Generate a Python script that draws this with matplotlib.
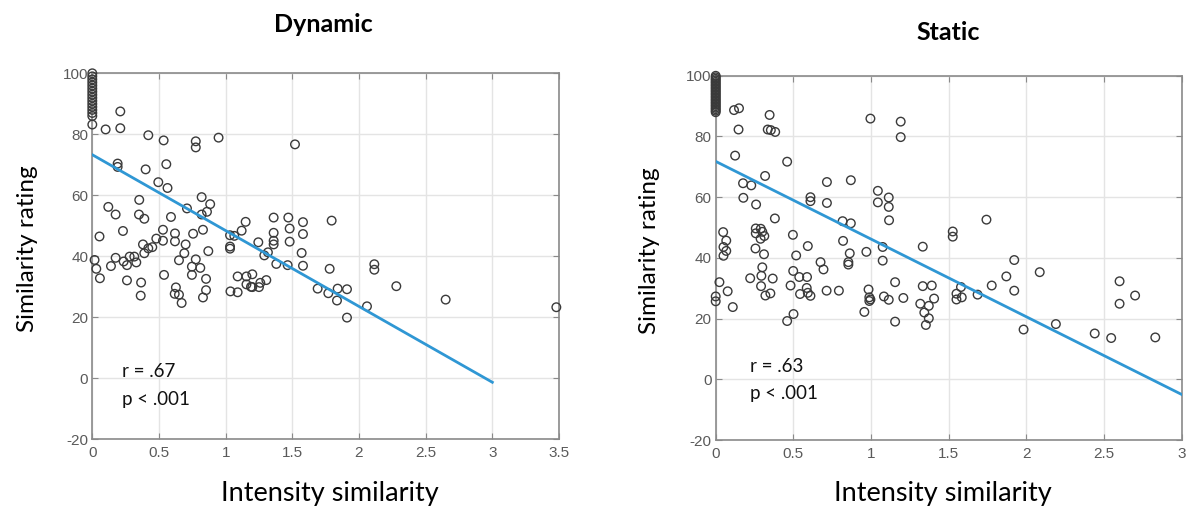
import matplotlib
matplotlib.use("Agg")
import matplotlib.pyplot as plt

# ---------------- data ----------------
# Dynamic panel
dyn_x = [0]*16 + [
    0.21, 0.10, 0.21, 0.42, 0.535, 0.776, 0.776, 0.947, 1.52,
    0.19, 0.19, 0.40, 0.555, 0.495, 0.564,
    0.12, 0.175, 0.352, 0.35, 0.39, 0.59, 0.71, 0.82, 0.884, 0.86, 0.82,
    0.23, 0.054, 0.53, 0.62, 0.756, 0.83, 0.48, 0.53, 0.62, 0.70, 0.38, 0.45, 0.42, 0.39, 0.87, 0.69,
    0.017, 0.175, 0.28, 0.315, 0.235, 0.33, 0.26, 0.14, 0.03, 0.057, 0.26, 0.366, 0.363,
    0.65, 0.776, 0.747, 0.81, 0.538, 0.747, 0.853, 0.853, 0.83, 0.627, 0.618, 0.65, 0.67,
    1.033, 1.033, 1.033, 1.065, 1.12, 1.15, 1.245, 1.29, 1.317,
    1.09, 1.09, 1.036, 1.156, 1.2, 1.156, 1.19, 1.2, 1.26, 1.305, 1.25,
    1.36, 1.36, 1.36, 1.36, 1.38, 1.47, 1.48, 1.48, 1.465,
    1.58, 1.58, 1.57, 1.58, 1.795, 1.78, 1.69, 1.77, 1.84, 1.835, 1.91, 1.91,
    2.06, 2.115, 2.115, 2.28, 2.65, 3.48]
dyn_y = [100, 99, 98, 97, 96, 95, 94, 93, 92, 91, 90, 89, 88, 87, 86, 83.2] + [
    87.5, 81.6, 82.0, 79.7, 78.0, 77.7, 75.7, 78.9, 76.7,
    70.4, 69.3, 68.5, 70.2, 64.3, 62.4,
    56.2, 53.7, 58.5, 53.7, 52.3, 52.9, 55.7, 59.4, 57.1, 54.6, 53.7,
    48.3, 46.5, 48.7, 47.5, 47.4, 48.7, 45.8, 45.1, 44.9, 43.9, 43.9, 43.0, 42.6, 41.0, 41.7, 41.0,
    38.8, 39.5, 39.9, 39.9, 38.3, 38.0, 37.1, 36.8, 35.9, 32.8, 32.1, 31.4, 27.1,
    38.7, 39.0, 36.6, 36.2, 33.9, 33.9, 32.6, 28.9, 26.5, 29.8, 27.7, 27.4, 24.7,
    43.2, 42.5, 46.9, 46.7, 48.4, 51.3, 44.6, 40.3, 41.3,
    33.4, 28.2, 28.5, 33.4, 34.1, 30.8, 30.0, 29.9, 31.3, 32.2, 29.9,
    52.7, 47.7, 45.1, 43.9, 37.5, 52.7, 49.1, 44.8, 37.1,
    51.2, 47.3, 41.1, 36.9, 51.7, 35.9, 29.4, 27.9, 29.4, 25.5, 29.2, 19.9,
    23.6, 37.4, 35.6, 30.2, 25.8, 23.3]
dyn_fit_x = [0, 3]
dyn_fit_y = [73.3, -1.3]

# Static panel
sta_x = [0]*25 + [
    0, 0, 0.024, 0.077, 0.11, 0.048, 0.068, 0.05, 0.068, 0.05,
    0.118, 0.15, 0.147, 0.125, 0.347, 0.335, 0.355, 0.383, 0.46, 0.318,
    0.176, 0.229, 0.178, 0.26, 0.381,
    0.258, 0.29, 0.30, 0.258, 0.313, 0.289, 0.256, 0.311, 0.30, 0.294, 0.222, 0.367, 0.292, 0.32, 0.352,
    0.497, 0.518, 0.499, 0.538, 0.588, 0.593, 0.61, 0.61, 0.482, 0.543, 0.586, 0.593, 0.61, 0.501, 0.46,
    0.675, 0.694, 0.716, 0.716, 0.714, 0.793, 0.817, 0.87, 0.87, 0.82, 0.863, 0.854, 0.854,
    0.957, 0.97, 0.984, 0.989, 0.989, 0.996, 0.996,
    1.044, 1.044, 1.114, 1.114, 1.116, 1.075, 1.075, 1.083, 1.114, 1.155, 1.155, 1.208, 1.191, 1.191,
    1.317, 1.333, 1.333, 1.343, 1.353, 1.372, 1.372, 1.391, 1.406,
    1.526, 1.526, 1.55, 1.55, 1.579, 1.584, 1.686, 1.743, 1.777,
    1.871, 1.922, 1.922, 1.982, 2.086, 2.19, 2.44, 2.546, 2.6, 2.6, 2.70, 2.83]
sta_y = [100, 99.5, 99, 98.5, 98, 97.5, 97, 96.5, 96, 95.5, 95, 94.5, 94, 93.5, 93,
         92.5, 92, 91.5, 91, 90.5, 90, 89.5, 89, 88.5, 88] + [
    27.3, 25.7, 32.0, 29.0, 23.8, 48.5, 45.7, 43.6, 42.3, 40.7,
    88.7, 89.3, 82.3, 73.7, 87.1, 82.3, 82.1, 81.5, 71.7, 67.0,
    64.6, 63.9, 59.8, 57.6, 53.0,
    49.7, 49.6, 48.6, 48.1, 47.2, 46.3, 43.1, 41.2, 36.9, 34.1, 33.3, 33.2, 30.7, 27.6, 28.3,
    47.6, 40.8, 35.7, 33.7, 33.7, 43.9, 60.0, 58.7, 30.9, 28.1, 30.1, 28.5, 27.5, 21.5, 19.2,
    38.6, 36.2, 65.0, 58.1, 29.2, 29.2, 52.1, 51.4, 65.6, 45.6, 41.5, 38.6, 37.8,
    22.2, 42.0, 29.6, 27.0, 25.8, 26.3, 85.9,
    62.1, 58.3, 59.9, 56.8, 52.4, 43.6, 39.1, 27.3, 26.2, 32.0, 19.0, 26.8, 84.9, 79.8,
    24.9, 30.7, 43.7, 22.0, 17.9, 20.1, 24.2, 30.9, 26.6,
    48.7, 47.0, 26.3, 28.2, 30.4, 27.0, 27.9, 52.6, 30.9,
    33.9, 39.3, 29.2, 16.4, 35.3, 18.2, 15.1, 13.6, 32.3, 24.9, 27.6, 13.8]
sta_fit_x = [0, 3]
sta_fit_y = [71.8, -5.0]

titles = ["Dynamic", "Static"]
stats = [["r = .67", "p < .001"], ["r = .63", "p < .001"]]
xlabel = "Intensity similarity"
ylabel = "Similarity rating"
y_ticks = [-20, 0, 20, 40, 60, 80, 100]
dyn_xticks = [0, 0.5, 1, 1.5, 2, 2.5, 3, 3.5]
sta_xticks = [0, 0.5, 1, 1.5, 2, 2.5, 3]

# ---------------- style ----------------
W, H = 1189, 518
fig = plt.figure(figsize=(W / 100, H / 100), dpi=100)
fig.patch.set_facecolor("white")

label_font = ["Lato", "DejaVu Sans"]
tick_font = ["Liberation Sans", "DejaVu Sans"]
line_color = "#2F97D4"
marker_edge = "#3a3a3a"
frame_color = "#8a8a8a"
tick_color = "#5a5a5a"


def px_axes(x0, y0, x1, y1):
    return fig.add_axes([x0 / W, 1 - y1 / H, (x1 - x0) / W, (y1 - y0) / H])


def style_axes(ax, xlim, xticks):
    ax.set_xlim(*xlim)
    ax.set_ylim(-20, 100)
    ax.set_xticks(xticks)
    ax.set_xticklabels([f"{t:g}" for t in xticks], fontfamily=tick_font,
                       fontsize=11, color=tick_color)
    ax.set_yticks(y_ticks)
    ax.set_yticklabels([f"{t:g}" for t in y_ticks], fontfamily=tick_font,
                       fontsize=11, color=tick_color)
    ax.grid(True, color="#e4e4e4", linewidth=1.0)
    ax.set_axisbelow(True)
    for s in ax.spines.values():
        s.set_color(frame_color)
        s.set_linewidth(1.2)
    ax.tick_params(direction="in", length=4, width=0.8, color=frame_color,
                   top=True, right=True, pad=5)
    ax.tick_params(axis="y", pad=3)


panels = [
    dict(box=(92.3, 73.3, 559.0, 439.3), xlim=(0, 3.5), xticks=dyn_xticks,
         x=dyn_x, y=dyn_y, fx=dyn_fit_x, fy=dyn_fit_y, title=titles[0], stats=stats[0],
         stat_y=(2.2, -7.0), title_pos=(323.5, 24), ylab_pos=(28, 249), xlab_pos=(329.5, 493)),
    dict(box=(715.7, 75.8, 1181.7, 440.0), xlim=(0, 3), xticks=sta_xticks,
         x=sta_x, y=sta_y, fx=sta_fit_x, fy=sta_fit_y, title=titles[1], stats=stats[1],
         stat_y=(4.3, -4.8), title_pos=(948, 33), ylab_pos=(649, 251), xlab_pos=(943, 494)),
]

for p in panels:
    ax = px_axes(*p["box"])
    style_axes(ax, p["xlim"], p["xticks"])
    ax.scatter(p["x"], p["y"], s=38, facecolors="none", edgecolors=marker_edge,
               linewidths=1.0, zorder=3, clip_on=False)
    ax.plot(p["fx"], p["fy"], color=line_color, linewidth=2.0, zorder=4)
    ax.text(0.22, p["stat_y"][0], p["stats"][0], fontsize=13.5, family=label_font,
            va="center", ha="left", color="#111111")
    ax.text(0.22, p["stat_y"][1], p["stats"][1], fontsize=13.5, family=label_font,
            va="center", ha="left", color="#111111")
    fig.text(p["title_pos"][0] / W, 1 - p["title_pos"][1] / H, p["title"],
             fontsize=18, fontweight="bold", family=label_font, ha="center", va="center")
    fig.text(p["ylab_pos"][0] / W, 1 - p["ylab_pos"][1] / H, ylabel, rotation=90,
             fontsize=17.5, family=label_font, ha="center", va="center")
    fig.text(p["xlab_pos"][0] / W, 1 - p["xlab_pos"][1] / H, xlabel,
             fontsize=19.5, family=label_font, ha="center", va="center")

fig.savefig("out.png", dpi=100, facecolor="white")
